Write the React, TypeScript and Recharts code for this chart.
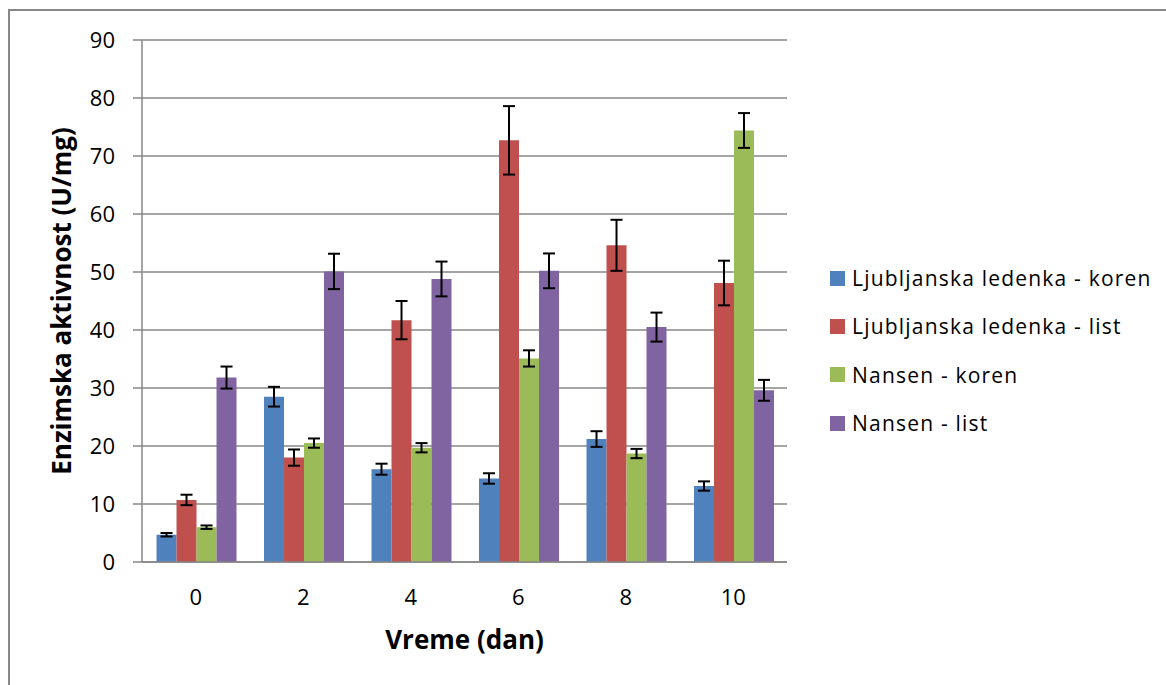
import { BarChart, Bar, XAxis, YAxis, CartesianGrid, Legend, ErrorBar, Label } from 'recharts'

const days = ['0', '2', '4', '6', '8', '10']
const ljKoren = [4.7, 28.5, 16.0, 14.4, 21.2, 13.1]
const ljKorenErr = [0.3, 1.7, 0.95, 0.9, 1.35, 0.8]
const ljList = [10.7, 18.0, 41.7, 72.7, 54.6, 48.1]
const ljListErr = [0.9, 1.4, 3.3, 5.9, 4.4, 3.85]
const naKoren = [6.0, 20.5, 19.7, 35.1, 18.7, 74.4]
const naKorenErr = [0.3, 0.8, 0.8, 1.4, 0.8, 3.0]
const naList = [31.8, 50.1, 48.8, 50.2, 40.5, 29.6]
const naListErr = [1.9, 3.05, 3.0, 3.0, 2.5, 1.8]
const yTicks = [0, 10, 20, 30, 40, 50, 60, 70, 80, 90]
const edgeTicks = [0, 1, 2, 3, 4, 5, 6]

const series = [
    { key: 'ljKoren', name: 'Ljubljanska ledenka - koren', color: '#4F81BD' },
    { key: 'ljList', name: 'Ljubljanska ledenka - list', color: '#C0504D' },
    { key: 'naKoren', name: 'Nansen - koren', color: '#9BBB59' },
    { key: 'naList', name: 'Nansen - list', color: '#8064A2' },
]

const data = days.map((day, i) => ({
    day,
    ljKoren: ljKoren[i],
    ljKorenErr: ljKorenErr[i],
    ljList: ljList[i],
    ljListErr: ljListErr[i],
    naKoren: naKoren[i],
    naKorenErr: naKorenErr[i],
    naList: naList[i],
    naListErr: naListErr[i],
}))

const FONT = '"Open Sans", sans-serif'
const GRID = '#878787'

function LegendBox({ payload }: any) {
    return (
        <div style={{ paddingLeft: 43 }}>
            {(payload || []).map((p: any) => (
                <div key={p.value} style={{ display: 'flex', alignItems: 'center', height: 48.3 }}>
                    <span style={{ width: 15, height: 15, background: p.color, marginRight: 7, flex: 'none' }} />
                    <span style={{ fontSize: 21, letterSpacing: 1.2, color: '#000', whiteSpace: 'nowrap' }}>{p.value}</span>
                </div>
            ))}
        </div>
    )
}

export default function App() {
    return (
        <div style={{ position: 'absolute', left: 0, top: 0, width: 1166, height: 685, overflow: 'hidden', background: '#fff', fontFamily: FONT }}>
            <div style={{ position: 'absolute', left: 8, top: 9, width: 1200, height: 720, borderTop: `2px solid ${GRID}`, borderLeft: `2px solid ${GRID}` }} />
            <BarChart
                width={1166}
                height={685}
                data={data}
                margin={{ top: 40, right: 39, bottom: 23, left: 0 }}
                barCategoryGap="13.5%"
                barGap={0}
                style={{ position: 'absolute', left: 0, top: 0 }}
            >
                <CartesianGrid vertical={false} xAxisId={1} stroke={GRID} strokeWidth={1.5} />
                {/* boundary ticks between categories, Excel style */}
                <XAxis
                    xAxisId={0}
                    type="number"
                    domain={[0, 6]}
                    ticks={edgeTicks}
                    tick={false}
                    tickSize={7}
                    height={1}
                    allowDataOverflow
                    stroke={GRID}
                    strokeWidth={1.5}
                />
                <XAxis
                    xAxisId={1}
                    dataKey="day"
                    tickLine={false}
                    axisLine={false}
                    tickSize={0}
                    tickMargin={26}
                    height={99}
                    tick={{ fill: '#000', fontSize: 22 }}
                >
                    <Label value="Vreme (dan)" position="insideBottom" offset={13} style={{ fontSize: 26, fontWeight: 700, fill: '#000' }} />
                </XAxis>
                <YAxis
                    domain={[0, 90]}
                    ticks={yTicks}
                    width={142}
                    tickSize={9}
                    tickMargin={18}
                    stroke={GRID}
                    strokeWidth={1.5}
                    tick={{ fill: '#000', fontSize: 22 }}
                >
                    <Label
                        value="Enzimska aktivnost (U/mg)"
                        angle={-90}
                        position="insideLeft"
                        offset={62}
                        style={{ textAnchor: 'middle', fontSize: 26, fontWeight: 700, fill: '#000' }}
                    />
                </YAxis>
                <Legend
                    layout="vertical"
                    align="right"
                    verticalAlign="middle"
                    width={340}
                    wrapperStyle={{ top: 254, right: 39 }}
                    content={<LegendBox />}
                />
                {series.map((s) => (
                    <Bar key={s.key} xAxisId={1} dataKey={s.key} name={s.name} fill={s.color} isAnimationActive={false}>
                        <ErrorBar dataKey={s.key + 'Err'} width={6} stroke="#000" strokeWidth={2} />
                    </Bar>
                ))}
            </BarChart>
        </div>
    )
}
